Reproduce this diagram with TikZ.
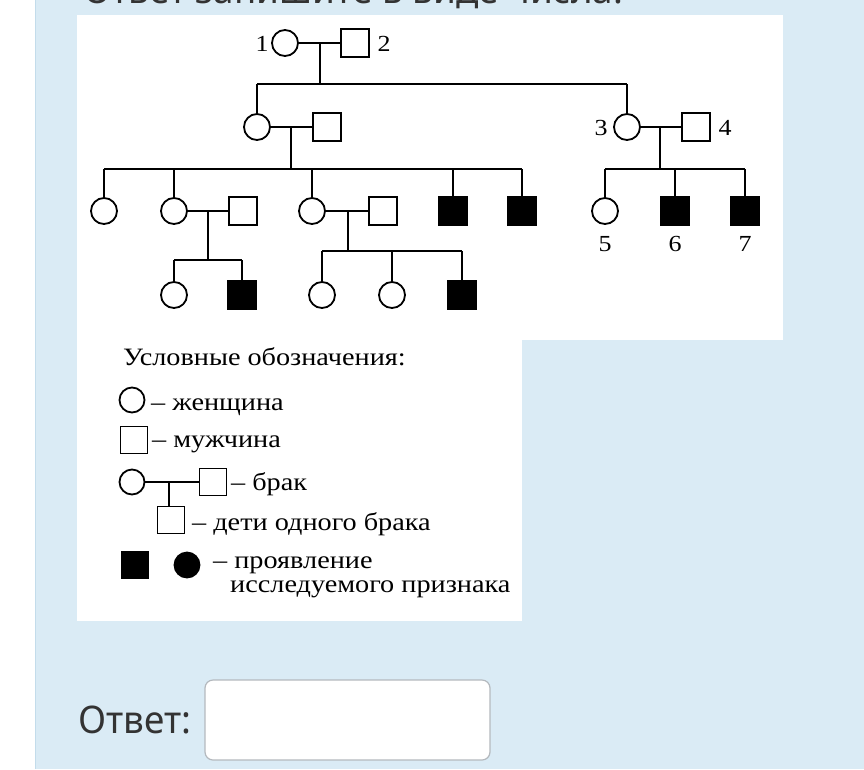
\documentclass[tikz,border=0pt]{standalone}
\usepackage{fontspec}
\newfontfamily\legendfont[FakeStretch=1.13]{Liberation Serif}
\newfontfamily\pagefont[FakeStretch=0.97]{Noto Sans}
\definecolor{pageblue}{HTML}{DAEBF5}
\definecolor{pageline}{HTML}{C3DCEB}
\definecolor{boxgray}{HTML}{B4B9BE}
\definecolor{textgray}{HTML}{333333}
\tikzset{
  female/.style={circle, draw, line width=1.8pt, minimum size=26pt, inner sep=0pt},
  male/.style={rectangle, draw, line width=1.8pt, minimum size=28pt, inner sep=0pt},
  sick/.style={fill=black},
  kin/.style={line width=1.8pt},
  num/.style={font=\legendfont\fontsize{23}{23}\selectfont, inner sep=0pt, anchor=base},
  legtext/.style={font=\legendfont\fontsize{25}{25}\selectfont, anchor=base west, inner sep=0pt},
  pagetext/.style={font=\pagefont\fontsize{38}{38}\selectfont, text=textgray, inner sep=0pt},
}
\begin{document}
\begin{tikzpicture}[x=1pt, y=-1pt]
    \useasboundingbox (0,0) rectangle (864,769);
    % страница
    \fill[white] (0,0) rectangle (35,769);
    \fill[pageblue] (35,0) rectangle (864,769);
    \draw[pageline] (35,0) -- (35,769);
    \fill[white] (77,15) rectangle (783,340);
    \fill[white] (77,340) rectangle (522,621);
    \node[pagetext, anchor=base west] (task) at (83,3) {Ответ запишите в виде числа.};

    % I поколение
    \node[female] (p1) at (285,43) {};
    \node[male] (p2) at (355,43) {};
    \node[num] (n1) at (262,51) {1};
    \node[num] (n2) at (384,51) {2};
    \coordinate (j1) at (320,43);
    \coordinate (s1) at (320,84);
    \draw[kin] (p1) -- (p2);
    \draw[kin] (j1) -- (s1);

    % II поколение
    \node[female] (d1) at (257,127) {};
    \node[male] (h1) at (327,127) {};
    \node[female] (p3) at (627,127) {};
    \node[male] (p4) at (696,127) {};
    \node[num] (n3) at (601,135) {3};
    \node[num] (n4) at (725,135) {4};
    \draw[kin] (d1 |- s1) -- (p3 |- s1);
    \draw[kin] (d1) -- (d1 |- s1);
    \draw[kin] (p3) -- (p3 |- s1);
    \coordinate (j2) at (291,127);
    \coordinate (s2) at (291,169);
    \coordinate (j3) at (660,127);
    \coordinate (s3) at (660,169);
    \draw[kin] (d1) -- (h1);
    \draw[kin] (j2) -- (s2);
    \draw[kin] (p3) -- (p4);
    \draw[kin] (j3) -- (s3);

    % III поколение
    \node[female] (a1) at (104,211) {};
    \node[female] (a2) at (174,211) {};
    \node[male] (a2m) at (243,211) {};
    \node[female] (a3) at (312,211) {};
    \node[male] (a3m) at (383,211) {};
    \node[male, sick] (a4) at (453,211) {};
    \node[male, sick] (a5) at (522,211) {};
    \draw[kin] (a1 |- s2) -- (a5 |- s2);
    \foreach \c in {a1,a2,a3,a4,a5}
        \draw[kin] (\c) -- (\c |- s2);
    \node[female] (p5) at (605,211) {};
    \node[male, sick] (p6) at (675,211) {};
    \node[male, sick] (p7) at (745,211) {};
    \draw[kin] (p5 |- s3) -- (p7 |- s3);
    \foreach \c in {p5,p6,p7}
        \draw[kin] (\c) -- (\c |- s3);
    \node[num] (n5) at (605,251) {5};
    \node[num] (n6) at (675,251) {6};
    \node[num] (n7) at (745,251) {7};

    % IV поколение
    \coordinate (j4) at (208,211);
    \coordinate (s4) at (208,260);
    \coordinate (j5) at (348,211);
    \coordinate (s5) at (348,251);
    \draw[kin] (a2) -- (a2m);
    \draw[kin] (j4) -- (s4);
    \draw[kin] (a3) -- (a3m);
    \draw[kin] (j5) -- (s5);
    \node[female] (b1) at (174,295) {};
    \node[male, sick] (b2) at (242,295) {};
    \node[female] (b3) at (322,295) {};
    \node[female] (b4) at (392,295) {};
    \node[male, sick] (b5) at (462,295) {};
    \draw[kin] (b1 |- s4) -- (b2 |- s4);
    \foreach \c in {b1,b2}
        \draw[kin] (\c) -- (\c |- s4);
    \draw[kin] (b3 |- s5) -- (b5 |- s5);
    \foreach \c in {b3,b4,b5}
        \draw[kin] (\c) -- (\c |- s5);

    % условные обозначения
    \node[legtext] (title) at (123,365) {Условные обозначения:};
    \node[female, minimum size=25pt] (lf) at (132,400) {};
    \node[legtext] (tf) at (151,410) {– женщина};
    \node[male, minimum size=27pt] (lm) at (134,440) {};
    \node[legtext] (tm) at (152,447) {– мужчина};
    \node[female, minimum size=25pt] (mf) at (132,482) {};
    \node[male, minimum size=27pt] (mm) at (213,482) {};
    \node[male, minimum size=27pt] (mc) at (171,520) {};
    \coordinate (mj) at (169,482);
    \draw[kin] (mf) -- (mm);
    \draw[kin] (mj) -- (mj |- mc.north);
    \node[legtext] (tb) at (231,490) {– брак};
    \node[legtext] (tc) at (192,530) {– дети одного брака};
    \node[male, sick, minimum size=27pt] (sm) at (135,565) {};
    \node[female, sick, minimum size=25pt] (sf) at (187,565) {};
    \node[legtext] (ts1) at (213,568) {– проявление};
    \node[legtext] (ts2) at (230,592) {исследуемого признака};

    % поле ответа
    \node[pagetext, anchor=west] (ans) at (78,720) {Ответ:};
    \draw[boxgray, line width=1.2pt, fill=white, rounded corners=8pt] (205,680) rectangle (490,760);
\end{tikzpicture}
\end{document}
